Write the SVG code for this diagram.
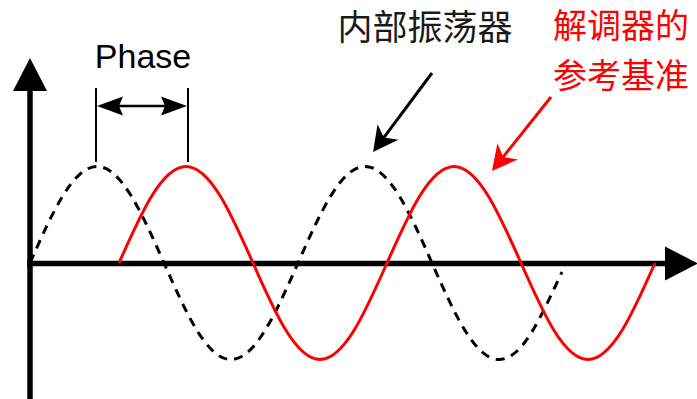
<svg xmlns="http://www.w3.org/2000/svg" width="697" height="399" viewBox="0 0 697 399">
<style>
.axis{stroke:#000;stroke-width:5.5;fill:none}
.tick{stroke:#000;stroke-width:2;fill:none}
.osc{stroke:#000;stroke-width:3;fill:none;stroke-dasharray:9 7}
.ref{stroke:#ff0000;stroke-width:3;fill:none}
.lbl{font-family:"Liberation Sans",Arial,sans-serif;font-size:34px;fill:#000}
.cjk{font-family:"Noto Sans CJK SC","Liberation Sans",sans-serif;font-size:35px}
.cjk2{font-family:"Noto Sans CJK SC","Liberation Sans",sans-serif;font-size:34px}
</style>
<defs>
<marker id="block" viewBox="0 -18 34 36" refX="0" refY="0" markerWidth="34" markerHeight="36" markerUnits="userSpaceOnUse" orient="auto">
<path d="M33,0 L0,-17 L0,17 Z" fill="#000"/>
</marker>
<marker id="small" viewBox="-5 -10 28 20" refX="0" refY="0" markerWidth="28" markerHeight="20" markerUnits="userSpaceOnUse" orient="auto-start-reverse">
<path d="M22,0 L-4,-9.5 L0,0 L-4,9.5 Z" fill="#000"/>
</marker>
<marker id="ptrK" viewBox="-8 -14 27 28" refX="0" refY="0" markerWidth="27" markerHeight="28" markerUnits="userSpaceOnUse" orient="auto">
<path d="M18,0 L-7,-13 L0,0 L-7,13 Z" fill="#000"/>
</marker>
<marker id="ptrR" viewBox="-8 -14 27 28" refX="0" refY="0" markerWidth="27" markerHeight="28" markerUnits="userSpaceOnUse" orient="auto">
<path d="M18,0 L-7,-13 L0,0 L-7,13 Z" fill="#ff0000"/>
</marker>
</defs>
<g id="axes">
<path class="axis" d="M30,399 L30,91" marker-end="url(#block)"/>
<path class="axis" d="M27,263.5 L665,263.5" marker-end="url(#block)"/>
</g>
<g id="oscillator-wave">
<path class="osc" d="M30,263 C51.85,213.6 72.75,166.5 97,166.5 C121.25,166.5 142.15,213.6 164,263 C185.85,312.4 206.75,359.5 231,359.5 C255.25,359.5 276.15,312.4 298,263 C319.85,213.6 340.75,166.5 365,166.5 C389.25,166.5 410.15,213.6 432,263 C453.85,312.4 474.75,359.5 499,359.5 C523.25,359.5 542,314 562,272"/>
</g>
<g id="reference-wave">
<path class="ref" d="M119,263 C140.85,213.6 161.75,166.5 186,166.5 C210.25,166.5 231.15,213.6 253,263 C274.85,312.4 295.75,359.5 320,359.5 C344.25,359.5 365.15,312.4 387,263 C408.85,213.6 429.75,166.5 454,166.5 C478.25,166.5 499.15,213.6 521,263 C542.85,312.4 563.75,359.5 588,359.5 C612.25,359.5 633.15,312.4 655,263"/>
</g>
<g id="phase">
<text class="lbl" x="143" y="68" text-anchor="middle">Phase</text>
<path class="tick" d="M96,88 L96,162 M188,88 L188,162"/>
</g>
<g id="connectors">
<path d="M119,106 L165,106" stroke="#000" stroke-width="2.5" fill="none" marker-start="url(#small)" marker-end="url(#small)"/>
<path d="M432,73 L383.8,137.6" stroke="#000" stroke-width="3" fill="none" marker-end="url(#ptrK)"/>
<path d="M551,97 L503.2,156.9" stroke="#ff0000" stroke-width="3" fill="none" marker-end="url(#ptrR)"/>
</g>
<g id="label-oscillator">
<text class="cjk" x="425" y="40" text-anchor="middle" fill="#1a1a1a">内部振荡器</text>
</g>
<g id="label-reference">
<text class="cjk2" x="621" y="37.5" text-anchor="middle" fill="#ff0000">解调器的</text>
<text class="cjk2" x="621" y="87.5" text-anchor="middle" fill="#ff0000">参考基准</text>
</g>
</svg>
